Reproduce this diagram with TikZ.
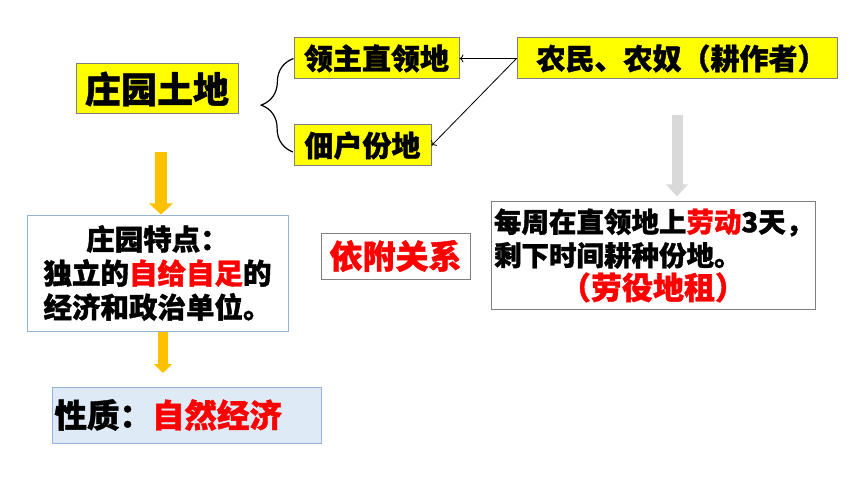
\documentclass[tikz,border=0pt]{standalone}
\usepackage{fontspec}
\setmainfont{Noto Sans CJK SC}[BoldFeatures={FakeBold=1.2}]
\usetikzlibrary{arrows.meta,decorations.pathreplacing}

\definecolor{boxyellow}{HTML}{FFFF00}
\definecolor{boxgray}{HTML}{7F7F7F}
\definecolor{boxblue}{HTML}{95B3D7}
\definecolor{fillblue}{HTML}{DEEBF7}
\definecolor{textred}{HTML}{FF0000}
\definecolor{arroworange}{HTML}{FFC000}
\definecolor{arrowgray}{HTML}{D9D9D9}
\newcommand\setfs[2]{\fontsize{#1}{#2}\selectfont}
\tikzstyle{plain box}=[
  rectangle,
  draw,
  line width=1pt,
  inner sep=0pt,
  ]
\tikzstyle{yellow box}=[ plain box, draw=boxgray, fill=boxyellow ]
\tikzstyle{blue box}=[ plain box, draw=boxblue, fill=white ]
\tikzstyle{pale box}=[ plain box, draw=boxblue, fill=fillblue ]
\tikzstyle{gray box}=[ plain box, draw=boxgray, fill=white ]
\tikzstyle{thin arrow}=[ line width=0.8pt, black, -{To[length=4pt,width=8pt]} ]
\tikzstyle{orange arrow}=[ line width=12pt, arroworange, -{Triangle[length=11pt,width=23pt]} ]
\tikzstyle{small orange arrow}=[ line width=10pt, arroworange, -{Triangle[length=9pt,width=18pt]} ]
\tikzstyle{gray arrow}=[ line width=11pt, arrowgray, -{Triangle[length=12pt,width=21pt]} ]

\begin{document}
\begin{tikzpicture}[
    x=1pt,
    y=-1pt,
    ]
    \useasboundingbox (0,0) rectangle (860,484);

    \node[yellow box, minimum width=162pt, minimum height=50pt, font=\bfseries\setfs{36}{40}] (tudi) at (157,89) {庄园土地};
    \node[yellow box, minimum width=165pt, minimum height=41pt, font=\bfseries\setfs{29}{32}] (lingzhu) at (376.5,58.5) {领主直领地};
    \node[yellow box, minimum width=137pt, minimum height=41pt, font=\bfseries\setfs{29}{32}] (dianhu) at (362.5,145.5) {佃户份地};
    \node[yellow box, minimum width=320pt, minimum height=41pt, font=\bfseries\setfs{29}{32}] (nongmin) at (677,58.5) {\hspace*{9pt}农民、农奴（耕作者）};

    % brace from the land to its two parts
    \coordinate (braceb) at (293,152);
    \coordinate (bracet) at (lingzhu.west);
    \draw[line width=1.2pt, decorate, decoration={brace, amplitude=32pt}] (braceb) -- (bracet);

    \draw[thin arrow] (nongmin.west) -- (lingzhu.east);
    \draw[thin arrow] (nongmin.west) -- (dianhu.east);

    \node[blue box, minimum width=261pt, minimum height=116pt, text width=255pt, align=center, font=\bfseries\setfs{28.5}{34}] (tedian) at (157.5,273)
      {庄园特点：\\独立的{\color{textred}自给自足}的\\经济和政治单位。};
    \coordinate (a1) at (161,152);
    \draw[orange arrow] (a1) -- (a1 |- tedian.north);

    \node[pale box, minimum width=269pt, minimum height=56pt, text width=264pt, inner xsep=2.5pt, align=left, font=\bfseries\setfs{32.5}{36}] (xingzhi) at (186.5,415)
      {性质：{\color{textred}自然经济}};
    \coordinate (a2s) at (163,332);
    \coordinate (a2e) at (163,373);
    \draw[small orange arrow] (a2s) -- (a2e);

    \node[gray box, minimum width=149pt, minimum height=46pt, text=textred, font=\bfseries\setfs{33}{36}] (yifu) at (395.5,256) {依附关系};

    \node[gray box, minimum width=324pt, minimum height=107pt, text width=318pt, inner xsep=3pt, align=left, font=\bfseries\setfs{27.5}{33.5}] (laoyi) at (653,255.5)
      {每周在直领地上{\color{textred}劳动}3天，\\剩下时间耕种份地。\\\makebox[318pt]{\color{textred}\setfs{31}{33.5}（劳役地租）}};
    \coordinate (g1) at ([yshift=-36pt]nongmin.south);
    \draw[gray arrow] (g1) -- ([yshift=5pt]g1 |- laoyi.north);
  \end{tikzpicture}
\end{document}
